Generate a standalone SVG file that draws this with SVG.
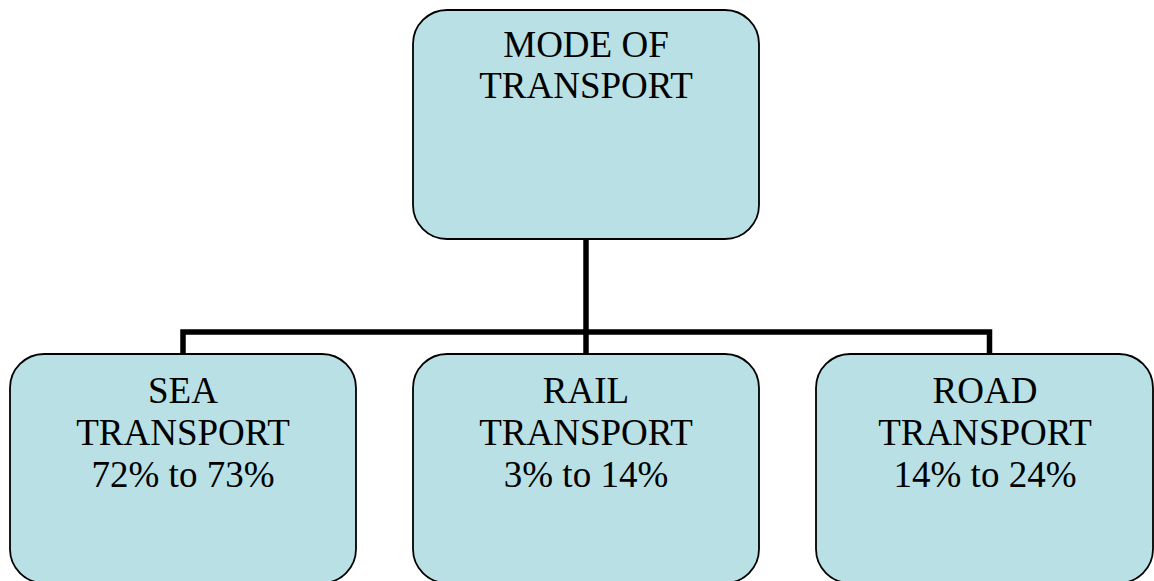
<svg xmlns="http://www.w3.org/2000/svg" width="1154" height="581" viewBox="0 0 1154 581">
<style>
.box{fill:#b9e0e4;stroke:#000;stroke-width:1.8}
.t{font-family:"Liberation Serif","Times New Roman",serif;font-size:37px;fill:#000;text-anchor:middle}
.c{stroke:#000;stroke-width:5.5;fill:none}
</style>
<rect width="1154" height="581" fill="#fff"/>
<g id="connectors">
<path class="c" d="M586,239 V332"/>
<path class="c" d="M183,354 V332 H989.5 V354"/>
<path class="c" d="M586,332 V354"/>
</g>
<g id="mode">
<rect class="box" x="413" y="10" width="346" height="229" rx="34" ry="34"/>
<text class="t" x="586" y="57">MODE OF</text>
<text class="t" x="586" y="98">TRANSPORT</text>
</g>
<g id="sea">
<rect class="box" x="10" y="354" width="346" height="229" rx="34" ry="34"/>
<text class="t" x="183" y="403">SEA</text>
<text class="t" x="183" y="445">TRANSPORT</text>
<text class="t" x="183" y="487">72% to 73%</text>
</g>
<g id="rail">
<rect class="box" x="413" y="354" width="346" height="229" rx="34" ry="34"/>
<text class="t" x="586" y="403">RAIL</text>
<text class="t" x="586" y="445">TRANSPORT</text>
<text class="t" x="586" y="487">3% to 14%</text>
</g>
<g id="road">
<rect class="box" x="816" y="354" width="337" height="229" rx="34" ry="34"/>
<text class="t" x="985" y="403">ROAD</text>
<text class="t" x="985" y="445">TRANSPORT</text>
<text class="t" x="985" y="487">14% to 24%</text>
</g>
</svg>
